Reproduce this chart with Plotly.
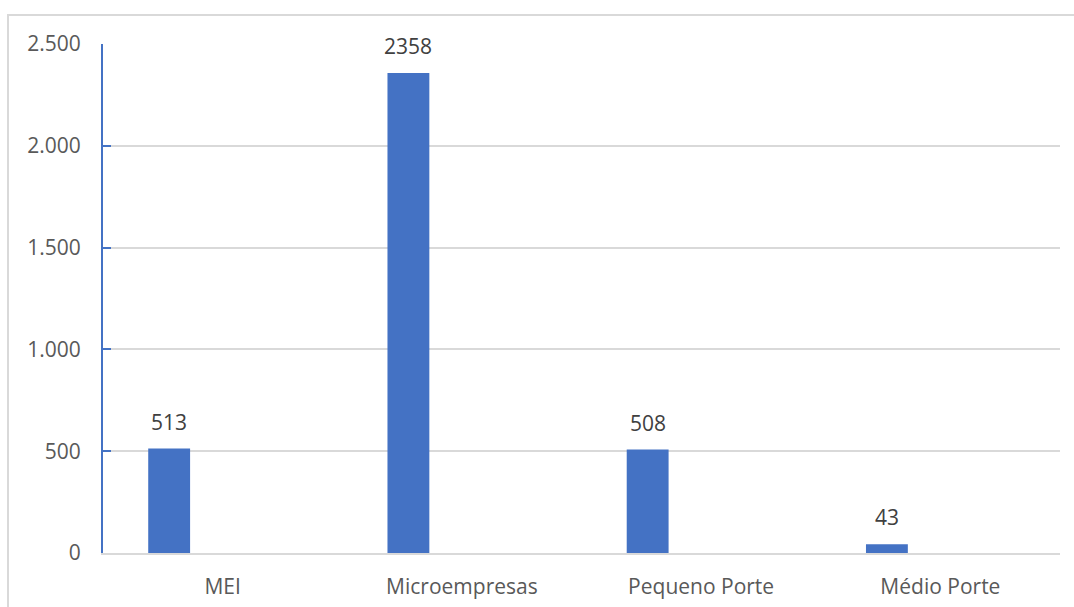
import plotly.graph_objects as go

# Company-size categories and counts
categories = ["MEI", "Microempresas", "Pequeno Porte", "Médio Porte"]
counts = [513, 2358, 508, 43]
y_ticks = [0, 500, 1000, 1500, 2000, 2500]

BLUE = "#4472C4"
GRID = "#D9D9D9"
FONT = "Open Sans"
FS = 21

# Plot-area geometry (pixels)
W, H = 1074, 607
M_L, M_R, M_T, M_B = 103, 14, 44, 54
plot_w = W - M_L - M_R
plot_h = H - M_T - M_B

# Bars sit in the left part of each category slot
BAR_WIDTH = 0.175
BAR_OFFSET = -0.311
slot_px = plot_w / len(categories)
label_xshift = (BAR_OFFSET + BAR_WIDTH / 2) * slot_px

fig = go.Figure()
fig.add_trace(go.Bar(
    x=categories,
    y=counts,
    width=BAR_WIDTH,
    offset=BAR_OFFSET,
    marker=dict(color=BLUE, line=dict(width=0)),
    hoverinfo="x+y",
))

for cat, val in zip(categories, counts):
    fig.add_annotation(
        x=cat, y=val, text=str(val), showarrow=False,
        xshift=label_xshift, yshift=27, yanchor="middle",
        font=dict(family=FONT, size=FS, color="#404040"),
    )

# Light chart border running off the right and bottom edges
x0 = (8 - M_L) / plot_w
y1 = (H - M_B - 15) / plot_h
fig.add_shape(type="rect", xref="paper", yref="paper",
              x0=x0, x1=1.2, y0=-0.3, y1=y1,
              line=dict(color=GRID, width=2), fillcolor="rgba(0,0,0,0)",
              layer="below")

fig.update_layout(
    width=W, height=H,
    margin=dict(l=M_L, r=M_R, t=M_T, b=M_B, pad=0, autoexpand=False),
    paper_bgcolor="white", plot_bgcolor="white",
    separators=",.",
    showlegend=False,
    font=dict(family=FONT, size=FS, color="#595959"),
    xaxis=dict(
        type="category",
        automargin=False,
        showgrid=False,
        showline=True, linecolor=GRID, linewidth=2,
        ticks="", ticklabelstandoff=14,
        tickfont=dict(family=FONT, size=FS, color="#595959"),
        range=[-0.5, len(categories) - 0.5],
    ),
    yaxis=dict(
        range=[0, 2500],
        automargin=False,
        tickvals=y_ticks,
        tickformat=",d",
        showgrid=True, gridcolor=GRID, gridwidth=1.5,
        zeroline=False,
        showline=True, linecolor=BLUE, linewidth=2,
        ticks="inside", ticklen=8, tickcolor=BLUE, tickwidth=2,
        ticklabelstandoff=16,
        tickfont=dict(family=FONT, size=FS, color="#595959"),
    ),
)

fig.write_html("out.html")
